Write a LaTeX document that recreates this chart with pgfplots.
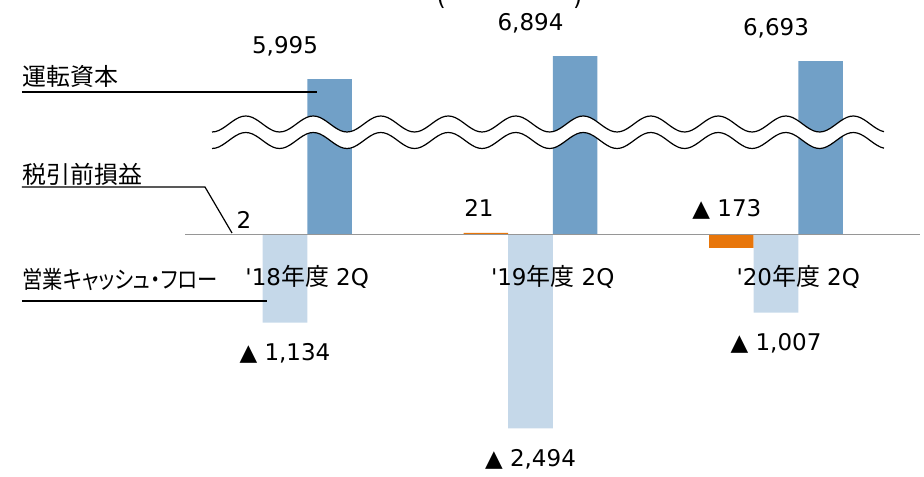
\documentclass[border=0pt]{standalone}
\usepackage{fontspec}
\setmainfont{DejaVu Sans}
\newfontfamily\cjk[Scale=1.04]{Noto Sans CJK JP}
\usepackage{graphicx}
\usepackage{pgfplots}
\pgfplotsset{compat=1.18}

\definecolor{wcblue}{RGB}{113,160,199}
\definecolor{cfblue}{RGB}{197,216,233}
\definecolor{ptorange}{RGB}{232,118,10}
\definecolor{zeroline}{RGB}{150,150,150}

\newcommand{\lbl}{\fontsize{11.5pt}{13pt}\selectfont}

\begin{document}
\begin{tikzpicture}
\begin{axis}[
    scale only axis,
    width=367.5pt, height=238pt,
    xmin=-0.4073, xmax=2.5866,
    ymin=-3108, ymax=3018,
    axis x line=middle, axis y line=none,
    axis line style={draw=zeroline, line width=0.9pt, -},
    xtick={0.0906,1.0906,2.0906},
    xticklabels={\textquotesingle18{\cjk 年度} 2Q,\textquotesingle19{\cjk 年度} 2Q,\textquotesingle20{\cjk 年度} 2Q},
    xtick style={draw=none},
    xticklabel style={font=\lbl, anchor=base, yshift=-23.25pt},
    ytick=\empty,
    % broken axis: working capital bars are compressed above the break
    y coord trafo/.code={\pgfmathparse{ifthenelse(#1>4000,28.6+0.329*#1,#1)}},
    axis on top, clip=false,
]
% 税引前損益
\addplot[ybar, bar width=0.1813, bar shift=-0.1813, fill=ptorange, draw=none]
    coordinates {(0,2) (1,21) (2,-173)};
% 営業キャッシュ・フロー
\addplot[ybar, bar width=0.1813, bar shift=0, fill=cfblue, draw=none,
    nodes near coords, point meta=explicit symbolic,
    every node near coord/.append style={font=\lbl, text=black, anchor=base, yshift=-19pt}]
    coordinates {(0,-1134) [▲ 1,134] (1,-2494) [▲ 2,494] (2,-1007) [▲ 1,007]};
% 運転資本
\addplot[ybar, bar width=0.1813, bar shift=0.1813, fill=wcblue, draw=none,
    nodes near coords, point meta=explicit symbolic,
    every node near coord/.append style={font=\lbl, text=black, anchor=base, yshift=13pt}]
    coordinates {(0,5995) [5,995] (1,6894) [6,894] (2,6693) [6,693]};
% labels of the pre-tax profit, set above the zero line
\addplot[draw=none, nodes near coords, point meta=explicit symbolic,
    every node near coord/.append style={font=\lbl, text=black, anchor=base}]
    coordinates {(-0.167,71) [2] (0.79,238) [21] (1.8,238) [▲ 173]};
\end{axis}

\begin{scope}[x=0.5pt, y=-0.5pt, shift={(-92.5pt,238pt)}]
  % break mark
  \fill[white] plot[domain=212:884, samples=200] (\x,{124+8*cos(5.33333*(\x-212))})
    -- plot[domain=884:212, samples=200] (\x,{140.5+8*cos(5.33333*(\x-212))}) -- cycle;
  \draw[line width=0.6pt] plot[domain=212:884, samples=200] (\x,{124+8*cos(5.33333*(\x-212))});
  \draw[line width=0.6pt] plot[domain=212:884, samples=200] (\x,{140.5+8*cos(5.33333*(\x-212))});
  % series names
  \node[anchor=base west, inner sep=0pt, font=\cjk\lbl] at (22,85.5) {運転資本};
  \draw[line width=0.6pt] (22,92) -- (317,92);
  \node[anchor=base west, inner sep=0pt, font=\cjk\lbl] at (22,183.5) {税引前損益};
  \draw[line width=0.6pt] (22,187) -- (205,187) -- (232,233);
  \node[anchor=base west, inner sep=0pt, font=\cjk\lbl] at (22,289)
    {\scalebox{0.85}[1]{\addfontfeature{RawFeature=+palt}営業キャッシュ・フロー}};
  \draw[line width=0.6pt] (22,301) -- (267,301);
  % unit, cut by the top edge
  \node[anchor=base, inner sep=0pt, font=\lbl] at (509.5,-1)
    {\raisebox{-3.5pt}{(}{\cjk 単位}:{\cjk 百万円}\raisebox{-3.5pt}{)}};
\end{scope}

\pgfresetboundingbox
\path[use as bounding box] (-92.5pt,0pt) rectangle (369.5pt,238pt);
\end{tikzpicture}
\end{document}
